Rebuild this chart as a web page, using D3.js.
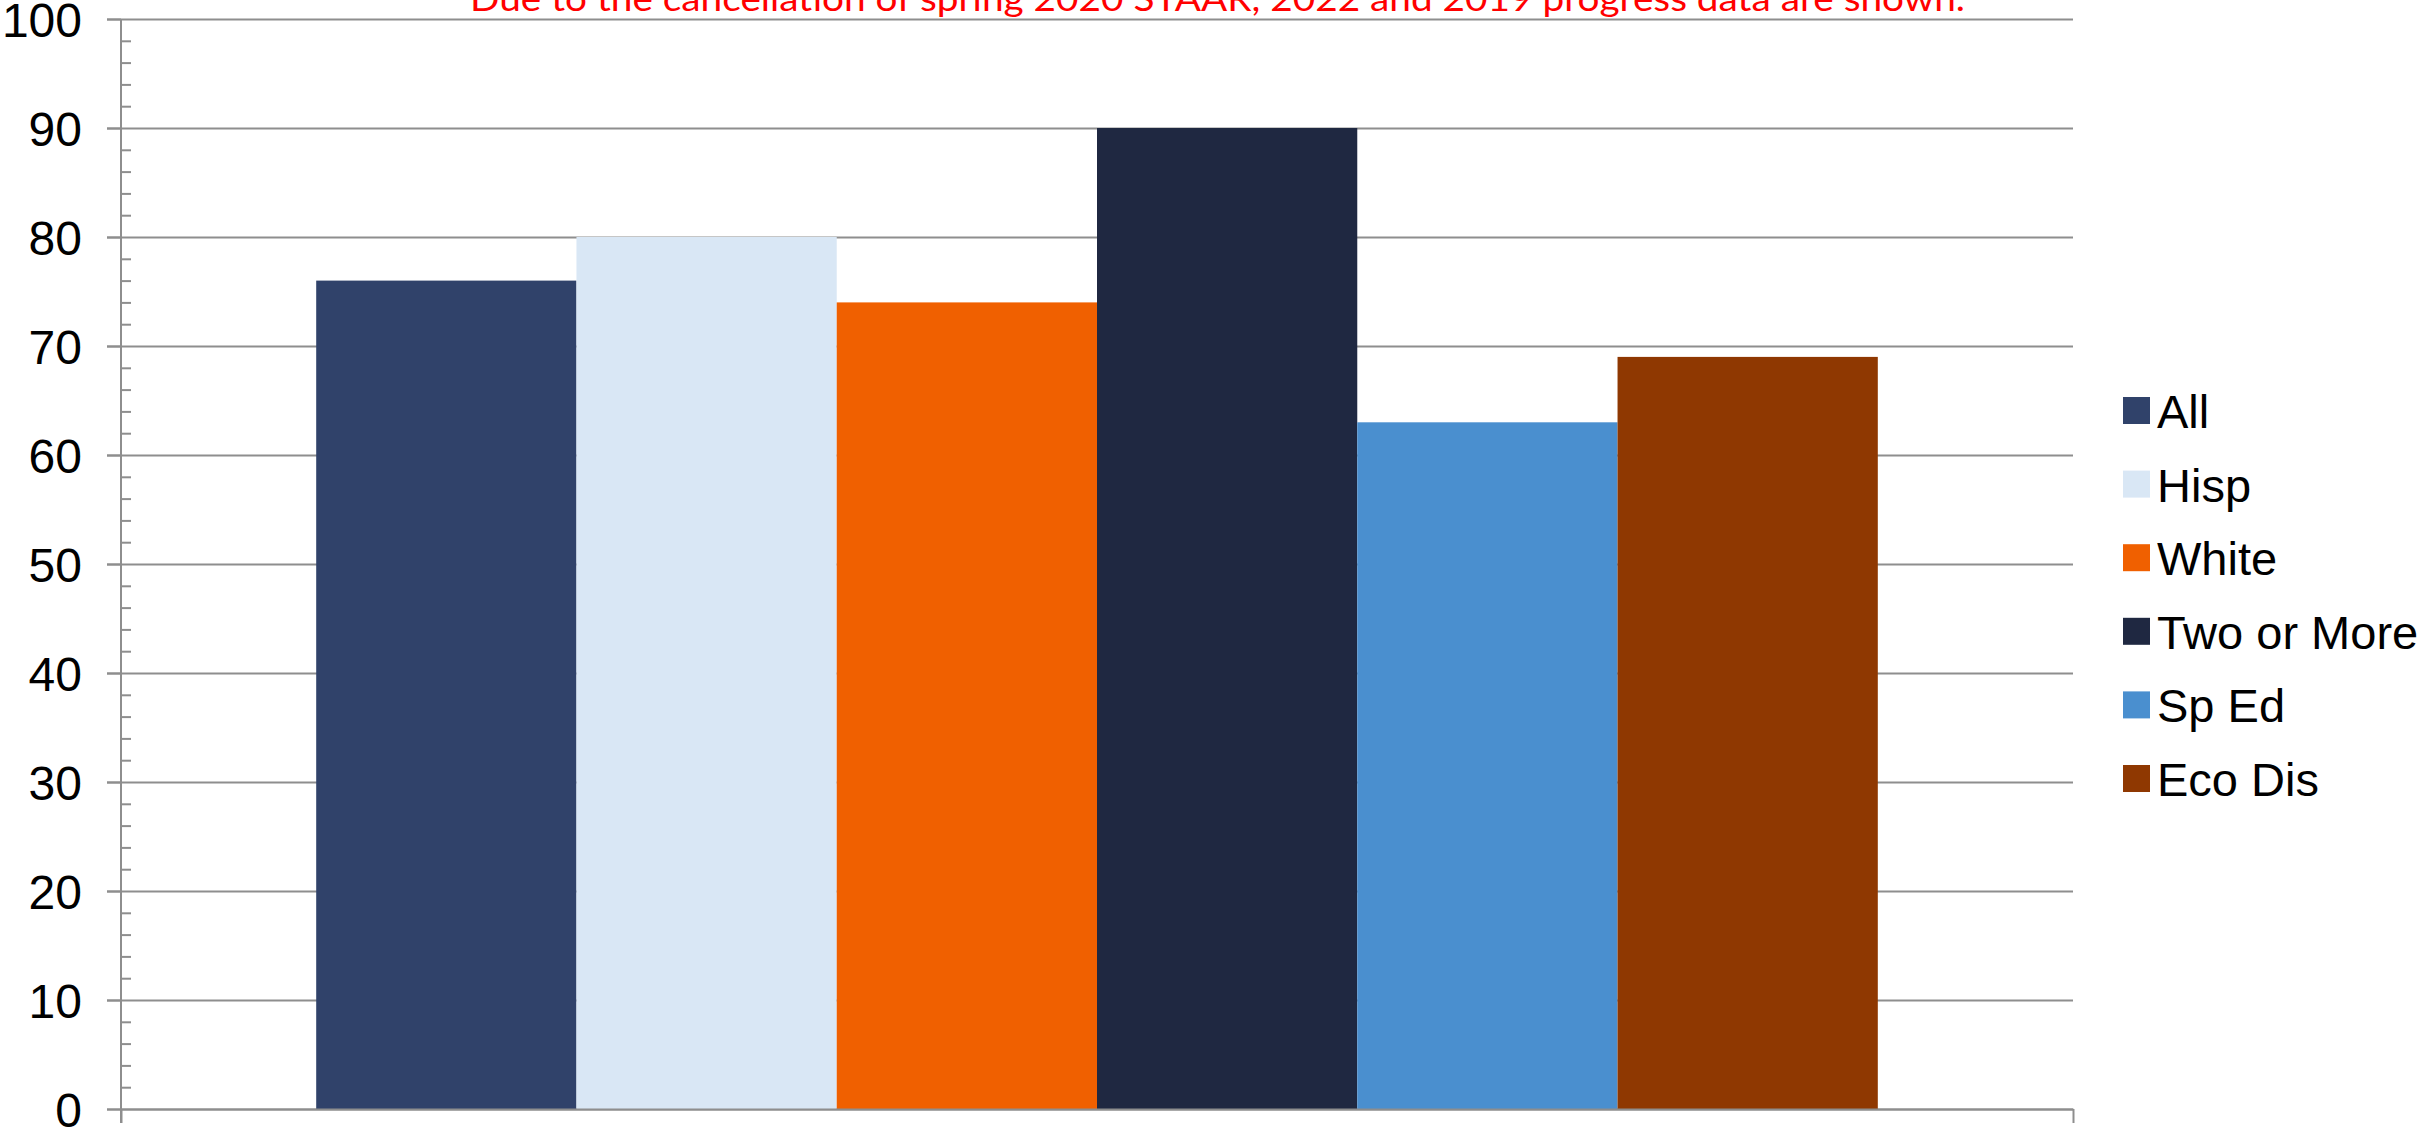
<!DOCTYPE html>
<html>
<head>
<meta charset="utf-8">
<script src="https://cdn.jsdelivr.net/npm/d3@7"></script>
<style>
  html, body { margin: 0; padding: 0; background: #fff; }
  svg { display: block; }
</style>
</head>
<body>
<svg id="chart" width="2433" height="1132"></svg>
<script>
// ---- data ----
const categories = [""];
const seriesNames = ["All", "Hisp", "White", "Two or More", "Sp Ed", "Eco Dis"];
const seriesValues = [76, 80, 74, 90, 63, 69];
const seriesColors = ["#30426A", "#D9E7F5", "#F06000", "#1F2841", "#4A8FCF", "#8F3801"];
const yMajorTicks = [0, 10, 20, 30, 40, 50, 60, 70, 80, 90, 100];
const yMinorTicks = d3.range(0, 101, 2).filter(v => v % 10 !== 0);
const note = "Due to the cancellation of spring 2020 STAAR, 2022 and 2019 progress data are shown.";

// ---- layout ----
const W = 2433, H = 1132;
const plot = { left: 121, right: 2073, top: 19, bottom: 1109 };
const gridColor = "#8E8E8E";

const svg = d3.select("#chart");

const y = d3.scaleLinear().domain([0, 100]).range([plot.bottom, plot.top]);
const x0 = d3.scaleBand().domain(categories).range([plot.left, plot.right])
  .paddingInner(0).paddingOuter(0.125);
const x1 = d3.scaleBand().domain(seriesNames).range([0, x0.bandwidth()]).padding(0);

// gridlines (extend left past axis as major ticks)
const grid = svg.append("g")
  .attr("transform", `translate(${plot.left - 14},0)`)
  .call(d3.axisLeft(y).tickValues(yMajorTicks).tickSize(-(plot.right - plot.left + 14)).tickFormat(""));
grid.select(".domain").remove();
grid.selectAll(".tick line").attr("stroke", gridColor).attr("stroke-width", 2);

// bars
const data = seriesNames.map((name, i) => ({ name, value: seriesValues[i], color: seriesColors[i] }));
svg.append("g")
  .selectAll("rect")
  .data(data)
  .join("rect")
  .attr("x", d => x0("") + x1(d.name))
  .attr("y", d => y(d.value))
  .attr("width", x1.bandwidth())
  .attr("height", d => y(0) - y(d.value))
  .attr("fill", d => d.color);

// y labels
const yAxis = svg.append("g")
  .attr("transform", `translate(${plot.left},0)`)
  .call(d3.axisLeft(y).tickValues(yMajorTicks).tickSize(14).tickPadding(25));
yAxis.select(".domain").remove();
yAxis.selectAll(".tick line").attr("stroke", gridColor).attr("stroke-width", 2);
yAxis.selectAll(".tick text")
  .attr("font-family", "'Liberation Sans', Arial, sans-serif")
  .attr("font-size", 48)
  .attr("fill", "#000")
  .attr("dy", "0.36em");

// minor ticks (inside)
const minor = svg.append("g")
  .attr("transform", `translate(${plot.left},0)`)
  .call(d3.axisRight(y).tickValues(yMinorTicks).tickSize(10).tickFormat(""));
minor.select(".domain").remove();
minor.selectAll(".tick line").attr("stroke", gridColor).attr("stroke-width", 2);

// vertical axis line
svg.append("line")
  .attr("x1", plot.left).attr("x2", plot.left)
  .attr("y1", y(100)).attr("y2", y(0) + 14)
  .attr("stroke", gridColor).attr("stroke-width", 2);

// x axis
const xEdge = d3.scaleLinear().domain([0, 1]).range([plot.left, plot.right]);
const xAxis = svg.append("g")
  .attr("transform", `translate(0,${plot.bottom})`)
  .call(d3.axisBottom(xEdge).tickValues([0, 1]).tickSize(14).tickSizeOuter(0).tickFormat(""));
xAxis.selectAll("path, line").attr("stroke", gridColor).attr("stroke-width", 2);

// note (partly clipped at top)
svg.append("text")
  .attr("x", 470).attr("y", 11)
  .attr("font-family", "Lato, 'Open Sans', sans-serif")
  .attr("font-size", 34)
  .attr("fill", "#FF0000")
  .attr("textLength", 1495)
  .attr("lengthAdjust", "spacingAndGlyphs")
  .text(note);

// legend
const legend = svg.append("g");
const leg = legend.selectAll("g").data(data).join("g")
  .attr("transform", (d, i) => `translate(2123,${397 + i * 73.6})`);
leg.append("rect").attr("width", 27).attr("height", 27).attr("fill", d => d.color);
leg.append("text")
  .attr("x", 34).attr("y", 31)
  .attr("font-family", "'Liberation Sans', Arial, sans-serif")
  .attr("font-size", 47)
  .attr("fill", "#000")
  .text(d => d.name);
</script>
</body>
</html>
